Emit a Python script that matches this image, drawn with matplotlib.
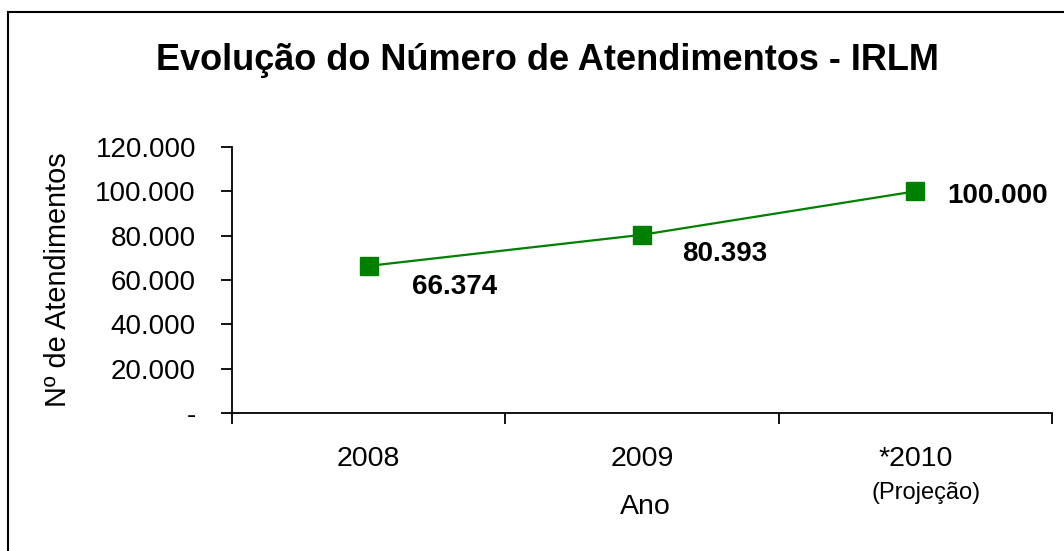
import matplotlib
matplotlib.use("Agg")
import matplotlib.pyplot as plt
from matplotlib.patches import Rectangle

categories = ["2008", "2009", "*2010"]
values = [66374, 80393, 100000]
value_labels = ["66.374", "80.393", "100.000"]
yticks = [0, 20000, 40000, 60000, 80000, 100000, 120000]
ytick_labels = ["-", "20.000", "40.000", "60.000", "80.000", "100.000", "120.000"]

plt.rcParams['font.family'] = ['Liberation Sans', 'DejaVu Sans']

W, H = 1064, 551
fig = plt.figure(figsize=(W / 100, H / 100), dpi=100)
fig.patch.set_facecolor("white")

# figure border (only left & top visible)
fig.add_artist(Rectangle((8 / W, -0.05), 1.2, 1 - 12 / H + 0.05, transform=fig.transFigure,
                         fill=False, edgecolor="black", linewidth=1.5))

ax = fig.add_axes([232 / W, 1 - 413 / H, (1052 - 232) / W, (413 - 147) / H])
x = [i + 0.5 for i in range(len(categories))]
ax.plot(x, values, color="#008000", linewidth=1.6, marker="s", markersize=13,
        markerfacecolor="#008000", markeredgecolor="#008000", clip_on=False)

ax.set_xlim(0, 3)
ax.set_ylim(0, 120000)
ax.set_yticks(yticks)
ax.set_yticklabels(ytick_labels, fontsize=20)
ax.set_xticks([0, 1, 2, 3])
ax.set_xticklabels([])
ax.set_xticks(x, minor=True)
ax.set_xticklabels(categories, minor=True, fontsize=20.5)
ax.tick_params(axis="x", which="minor", length=0, pad=23.5)
ax.tick_params(axis="x", which="major", direction="out", length=8, width=1.3)
ax.tick_params(axis="y", direction="out", length=8, width=1.3, pad=18)

for s in ["top", "right"]:
    ax.spines[s].set_visible(False)
for s in ["left", "bottom"]:
    ax.spines[s].set_linewidth(1.3)

# data labels (offsets in pixels)
offsets = [(43, -21), (40, -19), (32, -5)]
for xi, v, lab, (dx, dy) in zip(x, values, value_labels, offsets):
    ax.annotate(lab, (xi, v), xytext=(dx * 0.72, dy * 0.72), textcoords="offset points",
                ha="left", va="center", fontsize=20, fontweight="bold")

ax.text(2.54, -0.30, "(Projeção)", transform=ax.get_xaxis_transform(),
        ha="center", va="center", fontsize=17)

fig.text(645 / W, 1 - 507 / H, "Ano", ha="center", va="center", fontsize=20.5)
fig.text(58 / W, 1 - 280 / H, "Nº de Atendimentos", ha="center", va="center",
         rotation=90, fontsize=20.8)
fig.text(547 / W, 1 - 60 / H, "Evolução do Número de Atendimentos - IRLM",
         ha="center", va="center", fontsize=26, fontweight="bold")

fig.savefig("out.png", dpi=100)
